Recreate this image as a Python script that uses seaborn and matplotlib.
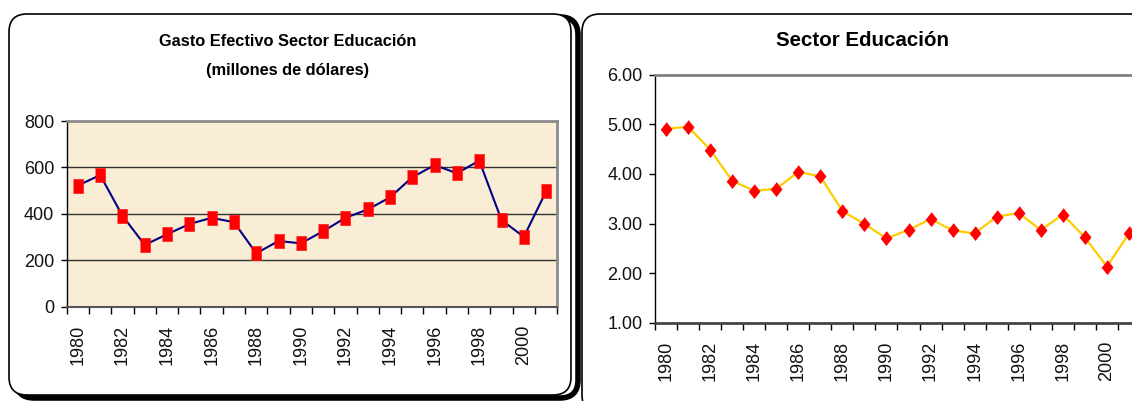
import numpy as np
import pandas as pd
import matplotlib
matplotlib.use("Agg")
import matplotlib.pyplot as plt
from matplotlib.patches import FancyBboxPatch
from matplotlib.ticker import FormatStrFormatter
import seaborn as sns

# Education sector spending, 1980-2001
years = [1980, 1981, 1982, 1983, 1984, 1985, 1986, 1987, 1988, 1989, 1990,
         1991, 1992, 1993, 1994, 1995, 1996, 1997, 1998, 1999, 2000, 2001]
gasto_millones = [522, 567, 392, 266, 312, 356, 383, 364, 230, 283, 273,
                  325, 383, 419, 471, 558, 610, 575, 629, 373, 301, 497]
sector_pct = [4.91, 4.95, 4.49, 3.86, 3.66, 3.70, 4.04, 3.95, 3.25, 2.99, 2.70,
              2.87, 3.09, 2.86, 2.80, 3.14, 3.21, 2.87, 3.18, 2.72, 2.13, 2.80]
label_years = [1980, 1982, 1984, 1986, 1988, 1990, 1992, 1994, 1996, 1998, 2000]
left_yticks = [0, 200, 400, 600, 800]
right_yticks = [1, 2, 3, 4, 5, 6]

sns.set_style("white")
plt.rcParams["font.family"] = ["Liberation Sans", "DejaVu Sans"]

W, H = 1132, 401
fig = plt.figure(figsize=(W / 100, H / 100), dpi=100)
fig.patch.set_facecolor("white")

# Background layer in pixel units for the rounded chart frames
bg = fig.add_axes([0, 0, 1, 1], zorder=0)
bg.set_xlim(0, W)
bg.set_ylim(0, H)
bg.axis("off")
bg.add_patch(FancyBboxPatch((16, 3), 562, 381, boxstyle="round,pad=0,rounding_size=18",
                            fc="none", ec="black", lw=4))
bg.add_patch(FancyBboxPatch((9, 6), 562, 381, boxstyle="round,pad=0,rounding_size=18",
                            fc="white", ec="black", lw=1.2))
bg.add_patch(FancyBboxPatch((582, -12), 620, 399, boxstyle="round,pad=0,rounding_size=18",
                            fc="white", ec="black", lw=1.2))

df = pd.DataFrame({"anio": years, "gasto": gasto_millones, "pct": sector_pct})

rect_marker = [(-0.35, -0.5), (0.35, -0.5), (0.35, 0.5), (-0.35, 0.5)]
diamond_marker = [(0, 0.5), (0.4, 0), (0, -0.5), (-0.4, 0)]


def style_year_axis(ax):
    ax.set_xlim(1979.5, 2001.5)
    ax.set_xticks(np.arange(1979.5, 2002, 1.0))
    ax.set_xticklabels([])
    ax.set_xticks(label_years, minor=True)
    ax.set_xticklabels([str(y) for y in label_years], minor=True, rotation=90)
    ax.tick_params(axis="x", which="major", direction="out", length=5, width=1,
                   color="black", bottom=True)
    ax.tick_params(axis="x", which="minor", length=0, pad=13, labelsize=13,
                   labelcolor="#111111")
    ax.tick_params(axis="y", direction="out", length=4, width=1, color="black",
                   left=True, pad=5, labelsize=13, labelcolor="#111111")
    ax.set_xlabel("")
    ax.set_ylabel("")


# Left chart: spending in millions of dollars
ax1 = fig.add_axes([66.7 / W, 94.3 / H, 490.6 / W, 185.7 / H], zorder=2)
ax1.set_facecolor("#F9EDD6")
sns.lineplot(data=df, x="anio", y="gasto", ax=ax1, color="#000080", lw=1.5,
             marker=rect_marker, markersize=10, markerfacecolor="#FF0000",
             markeredgecolor="#FF1A1A", markeredgewidth=0.5)
ax1.set_ylim(0, 800)
ax1.set_yticks(left_yticks)
ax1.yaxis.grid(True, color="#333333", lw=1)
ax1.set_axisbelow(True)
style_year_axis(ax1)
ax1.spines["left"].set_color("black")
ax1.spines["left"].set_linewidth(1)
ax1.spines["bottom"].set_color("#555555")
ax1.spines["bottom"].set_linewidth(1.5)
for s in ("top", "right"):
    ax1.spines[s].set_visible(True)
    ax1.spines[s].set_color("#8C8C8C")
    ax1.spines[s].set_linewidth(2)

fig.text(288 / W, 360 / H, "Gasto Efectivo Sector Educación", ha="center", va="center",
         fontsize=11.8, fontweight="bold", color="black")
fig.text(288 / W, 330 / H, "(millones de dólares)", ha="center", va="center",
         fontsize=11.8, fontweight="bold", color="black")

# Right chart: sector share
ax2 = fig.add_axes([655 / W, 78.3 / H, 485 / W, 248 / H], zorder=2)
ax2.set_facecolor("white")
sns.lineplot(data=df, x="anio", y="pct", ax=ax2, color="#FFCC00", lw=1.6,
             marker=diamond_marker, markersize=10, markerfacecolor="#FF0000",
             markeredgecolor="#FF0000", markeredgewidth=0.5)
ax2.set_ylim(1, 6)
ax2.set_yticks(right_yticks)
ax2.yaxis.set_major_formatter(FormatStrFormatter("%.2f"))
style_year_axis(ax2)
ax2.spines["left"].set_color("black")
ax2.spines["left"].set_linewidth(1)
ax2.spines["bottom"].set_color("#444444")
ax2.spines["bottom"].set_linewidth(2)
ax2.spines["top"].set_visible(True)
ax2.spines["top"].set_color("#808080")
ax2.spines["top"].set_linewidth(2)
ax2.spines["right"].set_visible(False)

fig.text(862 / W, 360 / H, "Sector Educación", ha="center", va="center",
         fontsize=14.8, fontweight="bold", color="black")

fig.savefig("out.png", dpi=100, facecolor="white")
